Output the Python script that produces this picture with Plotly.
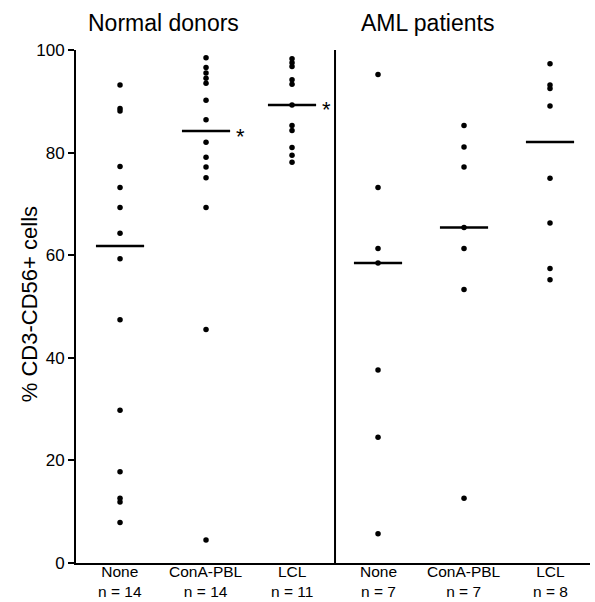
import numpy as np
import plotly.graph_objects as go

categories = ["None", "ConA-PBL", "LCL", "None", "ConA-PBL", "LCL"]
n_labels = ["n = 14", "n = 14", "n = 11", "n = 7", "n = 7", "n = 8"]
group_titles = ["Normal donors", "AML patients"]

normal_none = [93.2, 88.6, 88.1, 77.3, 73.2, 69.3, 64.3, 59.3, 47.4, 29.8, 17.8, 12.6, 11.9, 7.9]
normal_cona = [98.5, 96.6, 95.5, 94.5, 93.5, 90.2, 86.4, 82.0, 79.1, 77.2, 75.1, 69.3, 45.5, 4.5]
normal_lcl = [98.3, 97.5, 96.8, 94.2, 93.3, 89.3, 85.3, 84.3, 81.0, 79.5, 78.1]
aml_none = [95.2, 73.2, 61.3, 58.5, 37.6, 24.5, 5.7]
aml_cona = [85.3, 81.1, 77.2, 65.4, 61.3, 53.3, 12.6]
aml_lcl = [97.3, 93.2, 92.5, 89.1, 75.0, 66.3, 57.4, 55.2]

series = [normal_none, normal_cona, normal_lcl, aml_none, aml_cona, aml_lcl]
significant = [False, True, True, False, False, False]

FONT = "Liberation Sans, Arial, sans-serif"
fig = go.Figure()

for i, vals in enumerate(series):
    fig.add_trace(go.Scatter(
        x=[i] * len(vals), y=vals, mode="markers",
        marker=dict(color="black", size=5.5),
        showlegend=False, hoverinfo="y"))
    med = float(np.median(vals))
    fig.add_shape(type="line", xref="x", yref="y",
                  x0=i - 0.28, x1=i + 0.28, y0=med, y1=med,
                  line=dict(color="black", width=2.5))
    if significant[i]:
        fig.add_annotation(x=i + 0.4, y=med, xref="x", yref="y",
                           text="*", showarrow=False,
                           font=dict(family=FONT, size=22, color="black"),
                           yshift=-5)
    fig.add_annotation(x=i, y=-0.0365, xref="x", yref="paper",
                       text=categories[i] + "<br>" + n_labels[i],
                       showarrow=False, borderpad=0,
                       font=dict(family=FONT, size=15.5, color="black"),
                       yanchor="middle")

# divider between groups
fig.add_shape(type="line", xref="x", yref="y", x0=2.5, x1=2.5, y0=0, y1=100,
              line=dict(color="black", width=2))

fig.add_annotation(x=0.5, y=1.053, xref="x", yref="paper", text=group_titles[0],
                   showarrow=False, font=dict(family=FONT, size=23, color="black"),
                   yanchor="middle")
fig.add_annotation(x=3.58, y=1.053, xref="x", yref="paper", text=group_titles[1],
                   showarrow=False, font=dict(family=FONT, size=23, color="black"),
                   yanchor="middle")

fig.add_annotation(x=-0.089, y=0.505, xref="paper", yref="paper",
                   text="% CD3-CD56+ cells", textangle=-90, showarrow=False,
                   font=dict(family=FONT, size=22, color="black"),
                   xanchor="center", yanchor="middle")

fig.update_layout(
    width=595, height=602,
    margin=dict(l=76, r=5, t=50, b=39),
    paper_bgcolor="white", plot_bgcolor="white",
    xaxis=dict(range=[-0.512, 5.465], showgrid=False, zeroline=False,
               showticklabels=False, showline=True, linecolor="black",
               linewidth=2, ticks=""),
    yaxis=dict(range=[0, 100], tickvals=[0, 20, 40, 60, 80, 100],
               showgrid=False, zeroline=False, showline=True,
               linecolor="black", linewidth=2, ticks="outside",
               ticklen=6, tickwidth=1.5, tickcolor="black",
               tickfont=dict(family=FONT, size=17, color="black")),
)

fig.write_html("out.html")
